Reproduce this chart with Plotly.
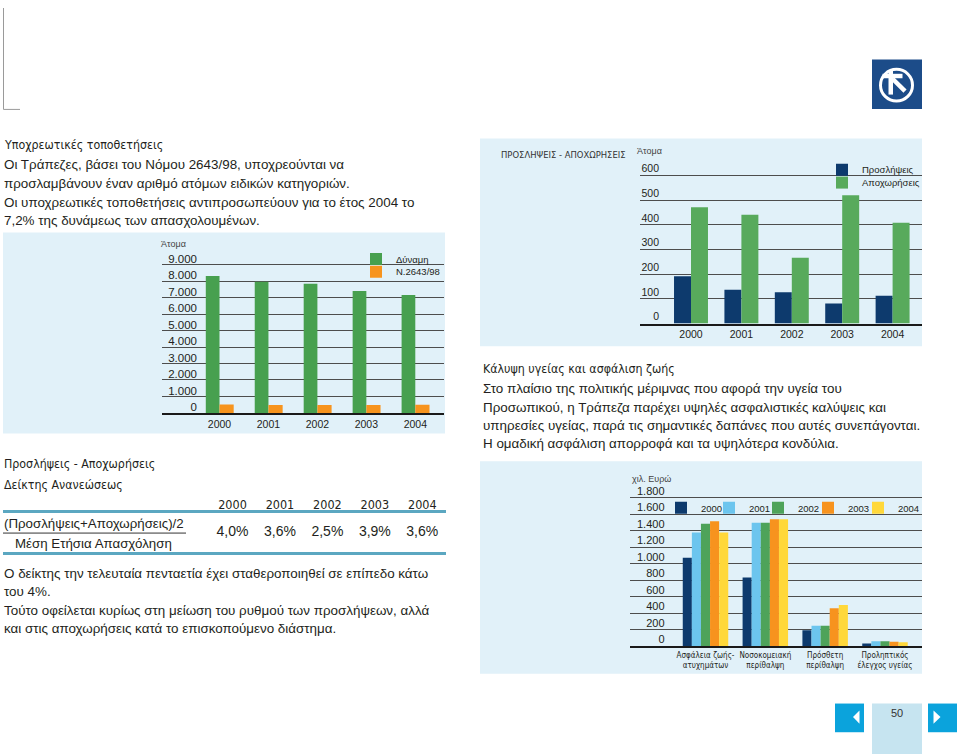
import plotly.graph_objects as go

W, H = 960, 754


def px(x):
    return x / W


def py(y):
    return 1 - y / H


# ---------------- data ----------------
years = ["2000", "2001", "2002", "2003", "2004"]

# Chart 1: staff strength vs. mandatory placements (Law 2643/98)
dynami = [8300, 7960, 7840, 7400, 7160]
n2643 = [520, 490, 490, 490, 500]

# Chart 2: hires / departures
proslipseis = [192, 137, 127, 81, 113]
apoxoriseis = [471, 441, 267, 520, 409]

# Renewal index table
deiktis = ["4,0%", "3,6%", "2,5%", "3,9%", "3,6%"]

# Chart 3: health & life cover (thousand euro)
cover_categories = ["Ασφάλεια ζωής-<br>ατυχημάτων", "Νοσοκομειακή<br>περίθαλψη",
                    "Πρόσθετη<br>περίθαλψη", "Προληπτικός<br>έλεγχος υγείας"]
cover_2000 = [1072, 832, 192, 32]
cover_2001 = [1380, 1496, 248, 60]
cover_2002 = [1484, 1496, 248, 60]
cover_2003 = [1516, 1540, 460, 52]
cover_2004 = [1380, 1540, 500, 48]
cover_series = [("2000", cover_2000), ("2001", cover_2001), ("2002", cover_2002),
                ("2003", cover_2003), ("2004", cover_2004)]

# ---------------- styles ----------------
TXT = "#231f20"
GRID = "#4d4d4d"
PANEL = "#e1f1f9"
FONT = "Liberation Sans, Arial, Helvetica, sans-serif"
NARROW = "DejaVu Sans Condensed, Liberation Sans, Arial, sans-serif"
BODY = 13.4
HEAD = 12.3

GREEN1 = "#47a04f"
ORANGE = "#f7941e"
NAVY = "#0d3a6d"
GREEN2 = "#58aa5c"
cover_colors = ["#0d3a6d", "#6cc5ee", "#4ea35a", "#f7931e", "#ffd83a"]
cover_legend_x = [695, 743, 792, 842, 892]   # text start positions of the legend entries

fig = go.Figure()

# chart 1
fig.add_bar(x=years, y=dynami, name="Δύναμη", marker=dict(color=GREEN1, line=dict(width=0)),
            width=0.28, offset=-0.28, xaxis="x", yaxis="y", legend="legend")
fig.add_bar(x=years, y=n2643, name="Ν.2643/98", marker=dict(color=ORANGE, line=dict(width=0)),
            width=0.29, offset=0.0, xaxis="x", yaxis="y", legend="legend2")
fig.add_scatter(x=[None], y=[None], xaxis="x", yaxis="y5", showlegend=False, hoverinfo="skip")

# chart 2
fig.add_bar(x=years, y=proslipseis, name="Προσλήψεις", marker=dict(color=NAVY, line=dict(width=0)),
            width=0.337, offset=-0.337, xaxis="x2", yaxis="y2", legend="legend3")
fig.add_bar(x=years, y=apoxoriseis, name="Αποχωρήσεις", marker=dict(color=GREEN2, line=dict(width=0)),
            width=0.337, offset=0.0, xaxis="x2", yaxis="y2", legend="legend4")
fig.add_scatter(x=[None], y=[None], xaxis="x2", yaxis="y6", showlegend=False, hoverinfo="skip")

# chart 3
bw3 = 0.152
for i, ((nm, vals), col) in enumerate(zip(cover_series, cover_colors)):
    fig.add_bar(x=cover_categories, y=vals, name=nm, marker=dict(color=col, line=dict(width=0)),
                width=bw3, offset=-2.5 * bw3 + i * bw3, xaxis="x3", yaxis="y3",
                legend=f"legend{5 + i}")
fig.add_scatter(x=[None], y=[None], xaxis="x3", yaxis="y7", showlegend=False, hoverinfo="skip")

# table values
fig.add_scatter(x=years, y=["Δείκτης"] * len(years), mode="text", text=deiktis,
                textfont=dict(size=14, color=TXT, family=FONT), xaxis="x4", yaxis="y4",
                showlegend=False, hoverinfo="skip")


def cat_x(domain, rng, size, cats, anchor, family=FONT):
    return dict(domain=domain, range=rng, type="category", categoryorder="array", categoryarray=cats,
                anchor=anchor, showgrid=False, zeroline=False, showline=True, linecolor="#1a1a1a",
                linewidth=2, ticks="", tickangle=0, tickfont=dict(size=size, color=TXT, family=family),
                fixedrange=True)


def grid_y(domain, rng, dtick, anchor):
    return dict(domain=domain, range=rng, dtick=dtick, tick0=0, anchor=anchor, showgrid=True,
                gridcolor=GRID, gridwidth=1, zeroline=False, showticklabels=False, showline=False,
                ticks="", fixedrange=True)


def label_y(over, pos, rng, dtick, size, shift):
    return dict(overlaying=over, anchor="free", position=pos, side="left", range=rng, dtick=dtick,
                tick0=0, showgrid=False, zeroline=False, showline=False, ticks="", tickformat=",d",
                ticklabelshift=shift, tickfont=dict(size=size, color=TXT, family=FONT), fixedrange=True)


def leg(x, ytop, size=9.5):
    return dict(x=px(x), y=py(ytop), xanchor="left", yanchor="top", bgcolor="rgba(0,0,0,0)",
                borderwidth=0, font=dict(size=size, color=TXT, family=FONT), orientation="v",
                itemclick=False, itemdoubleclick=False)


def txt(x, y, s, size=BODY, anchor="left", color=TXT, family=FONT):
    return dict(x=px(x), y=py(y), xref="paper", yref="paper", text=s, showarrow=False,
                xanchor=anchor, yanchor="middle", font=dict(size=size, color=color, family=family))


annotations = [
    # left column
    txt(2, 138.5, "Υποχρεωτικές τοποθετήσεις", HEAD, family=NARROW),
    txt(2, 158.5, "Οι Τράπεζες, βάσει του Νόμου 2643/98, υποχρεούνται να"),
    txt(2, 177.5, "προσλαμβάνουν έναν αριθμό ατόμων ειδικών κατηγοριών."),
    txt(2, 196.5, "Οι υποχρεωτικές τοποθετήσεις αντιπροσωπεύουν για το έτος 2004 το"),
    txt(2, 215, "7,2% της δυνάμεως των απασχολουμένων."),
    txt(159, 239, "Άτομα", 9, color="#444"),
    txt(2, 461, "Προσλήψεις - Αποχωρήσεις", HEAD, family=NARROW),
    txt(2, 482, "Δείκτης Ανανεώσεως", HEAD, family=NARROW),
    txt(2, 521.5, "(Προσλήψεις+Αποχωρήσεις)/2", 13.3),
    txt(93.5, 541, "Μέση Ετήσια Απασχόληση", 13.3, anchor="center"),
    txt(2, 572, "Ο δείκτης την τελευταία πενταετία έχει σταθεροποιηθεί σε επίπεδο κάτω"),
    txt(2, 590, "του 4%."),
    txt(2, 608.5, "Τούτο οφείλεται κυρίως στη μείωση του ρυθμού των προσλήψεων, αλλά"),
    txt(2, 627, "και στις αποχωρήσεις κατά το επισκοπούμενο διάστημα."),
    # right column
    txt(499, 148, "ΠΡΟΣΛΗΨΕΙΣ - ΑΠΟΧΩΡΗΣΕΙΣ", 9.4, color="#333", family=NARROW),
    txt(635, 145, "Άτομα", 9, color="#444"),
    txt(481, 365, "Κάλυψη υγείας και ασφάλιση ζωής", HEAD, family=NARROW),
    txt(481, 385, "Στο πλαίσιο της πολιτικής μέριμνας που αφορά την υγεία του"),
    txt(481, 403.5, "Προσωπικού, η Τράπεζα παρέχει υψηλές ασφαλιστικές καλύψεις και"),
    txt(481, 422, "υπηρεσίες υγείας, παρά τις σημαντικές δαπάνες που αυτές συνεπάγονται."),
    txt(481, 440, "Η ομαδική ασφάλιση απορροφά και τα υψηλότερα κονδύλια."),
    txt(630, 476, "χιλ. Ευρώ", 9, color="#444"),
    txt(897.3, 712.5, "50", 11, anchor="center", color="#333"),
]


def rect(x0, y0, x1, y1, fill, layer="below"):
    return dict(type="rect", xref="paper", yref="paper", x0=px(x0), x1=px(x1), y0=py(y0), y1=py(y1),
                fillcolor=fill, line=dict(width=0), layer=layer)


def line(x0, y0, x1, y1, color, width):
    return dict(type="line", xref="paper", yref="paper", x0=px(x0), x1=px(x1), y0=py(y0), y1=py(y1),
                line=dict(color=color, width=width))


def poly(points, fill):
    p = "M " + " L ".join(f"{px(a):.5f},{py(b):.5f}" for a, b in points) + " Z"
    return dict(type="path", xref="paper", yref="paper", path=p, fillcolor=fill, line=dict(width=0))


shapes = [
    line(3.5, 0, 3.5, 102.5, "#9a9a9a", 1),
    line(3.5, 102.5, 20, 102.5, "#9a9a9a", 1),
    rect(3, 227, 445, 430, PANEL),
    rect(480, 132, 922, 342, PANEL),
    rect(480, 458, 922, 673, PANEL),
    line(3, 530.7, 186, 530.7, "#333", 1),
    # logo
    rect(872, 52, 922, 102, "#1c4c89", layer="above"),
    dict(type="circle", xref="paper", yref="paper", x0=px(880.5), x1=px(912.5), y0=py(62), y1=py(94),
         line=dict(color="white", width=3)),
    rect(888.5, 63.5, 893, 87.5, "white", layer="above"),
    rect(882.5, 66.5, 902.5, 71, "white", layer="above"),
    line(892.5, 71.5, 905, 84, "white", 4.5),
    # page navigation
    rect(835, 703, 864, 732, "#0ba3dc", layer="above"),
    rect(872, 703, 922, 754, "#c6e4f0", layer="below"),
    rect(928, 703, 957, 732, "#0ba3dc", layer="above"),
    poly([(853, 716.7), (859.5, 710), (859.5, 723.4)], "white"),
    poly([(933.5, 710), (933.5, 723.4), (940.5, 716.7)], "white"),
]

# chart geometry
c1x = (162, 444); c1c0, c1s = 219.5, 48.95
c2x = (640, 921.7); c2c0, c2s = 691, 50.4
c3x = (630, 921.7); c3c0, c3s = 705.5, 59.83
tbx = (3, 446); tbc0, tbs = 232.5, 47.45

legends = dict(
    legend=leg(356, 239),
    legend2=leg(356, 251.8),
    legend3=leg(822, 148.8),
    legend4=leg(822, 161.8),
)
for i, tx in enumerate(cover_legend_x):
    legends[f"legend{5 + i}"] = leg(tx - 34, 490.5)

fig.update_layout(
    width=W, height=H, margin=dict(l=0, r=0, t=0, b=0),
    paper_bgcolor="white", plot_bgcolor="rgba(0,0,0,0)",
    font=dict(family=FONT, color=TXT), separators=",.", barmode="overlay",
    xaxis=cat_x([px(c1x[0]), px(c1x[1])], [(c1x[0] - c1c0) / c1s, (c1x[1] - c1c0) / c1s], 10.5, years, "y"),
    yaxis=grid_y([py(409.3), py(254.3)], [0, 9300], 1000, "x"),
    yaxis5=label_y("y", px(197), [0, 9300], 1000, 11.5, -6),
    xaxis2=cat_x([px(c2x[0]), px(c2x[1])], [(c2x[0] - c2c0) / c2s, (c2x[1] - c2c0) / c2s], 10.5, years, "y2"),
    yaxis2=grid_y([py(319), py(164.3)], [0, 620], 100, "x2"),
    yaxis6=label_y("y2", px(659), [0, 620], 100, 10.5, -7),
    xaxis3=cat_x([px(c3x[0]), px(c3x[1])], [(c3x[0] - c3c0) / c3s, (c3x[1] - c3c0) / c3s], 8,
                 cover_categories, "y3", family=NARROW),
    yaxis3=grid_y([py(645), py(490)], [0, 1860], 200, "x3"),
    yaxis7=label_y("y3", px(664.5), [0, 1860], 200, 11, -7),
    xaxis4=dict(domain=[px(tbx[0]), px(tbx[1])], range=[(tbx[0] - tbc0) / tbs, (tbx[1] - tbc0) / tbs],
                type="category", categoryorder="array", categoryarray=years, anchor="y4", side="top",
                showgrid=False, zeroline=False, showline=True, mirror=True, linecolor="#5ba7c1",
                linewidth=2.5, ticks="", tickangle=0, ticklabelstandoff=-4,
                tickfont=dict(size=12.5, color=TXT, family=NARROW), fixedrange=True),
    yaxis4=dict(domain=[py(550), py(510)], type="category", range=[-0.5, 0.5], anchor="x4",
                visible=False, fixedrange=True),
    annotations=annotations,
    shapes=shapes,
    hovermode=False,
    **legends,
)

fig.write_html(
    "out.html",
    config={"displayModeBar": False},
    post_script=(
        "document.documentElement.style.margin='0px';"
        "document.body.style.margin='0px';"
        "document.documentElement.style.overflow='hidden';"
        "document.body.style.overflow='hidden';"
        "var d=document.getElementById('{plot_id}');"
        "d.style.position='absolute';d.style.left='0px';d.style.top='0px';"
        "var sp=document.createElement('div');"
        "sp.style.cssText='position:absolute;left:0px;top:0px;width:1px;height:1px;visibility:hidden';"
        "document.body.appendChild(sp);"
    ),
)
